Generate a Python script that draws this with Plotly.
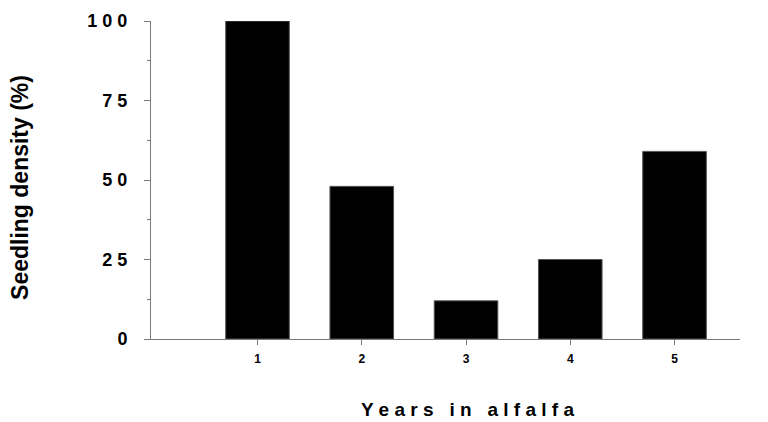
import plotly.graph_objects as go

years = [1, 2, 3, 4, 5]
density = [100, 48, 12, 25, 59]
y_tick_vals = [0, 25, 50, 75, 100]
y_tick_text = ["0", "2 5", "5 0", "7 5", "1 0 0"]
x_title = "Y e a r s   i n   a l f a l f a"
y_title = "Seedling density (%)"

FONT = "Liberation Sans, Arial, sans-serif"
AXIS_COLOR = "#7a7a7a"

fig = go.Figure()
fig.add_trace(go.Bar(
    x=years, y=density, width=0.61,
    marker=dict(color="black", line=dict(color="#555555", width=1)),
))

fig.update_layout(
    width=768, height=422,
    margin=dict(l=151, r=28, t=21, b=83),
    plot_bgcolor="white", paper_bgcolor="white",
    showlegend=False,
    font=dict(family=FONT, color="black"),
    xaxis=dict(
        range=[-0.0216, 5.628], tickmode="array", tickvals=years,
        ticktext=[str(v) for v in years],
        showgrid=False, zeroline=False, showline=True, linecolor=AXIS_COLOR, linewidth=1,
        ticks="outside", ticklen=5, tickcolor=AXIS_COLOR, tickwidth=1,
        tickfont=dict(family=FONT, size=12, color="black", weight="bold"),
        ticklabelstandoff=4, automargin=False,
    ),
    yaxis=dict(
        range=[0, 100], tickmode="array", tickvals=y_tick_vals, ticktext=y_tick_text,
        showgrid=False, zeroline=False, showline=True, linecolor=AXIS_COLOR, linewidth=1,
        ticks="outside", ticklen=6, tickcolor=AXIS_COLOR, tickwidth=1,
        tickfont=dict(family=FONT, size=18, color="black", weight="bold"),
        ticklabelstandoff=13, automargin=False,
        minor=dict(tickmode="linear", tick0=12.5, dtick=25, ticks="outside", ticklen=3,
                   tickcolor=AXIS_COLOR, tickwidth=1, showgrid=False),
    ),
)

fig.add_annotation(
    text=x_title, xref="paper", yref="paper", x=0.538, y=-0.223,
    xanchor="center", yanchor="middle", showarrow=False,
    font=dict(family=FONT, size=19, color="black", weight="bold"),
)
fig.add_annotation(
    text=y_title, xref="paper", yref="paper", x=-0.2224, y=0.475,
    xanchor="center", yanchor="middle", showarrow=False, textangle=-90,
    font=dict(family=FONT, size=23, color="black", weight="bold"),
)

fig.write_html("out.html", config={"displayModeBar": False},
               post_script="document.body.style.margin='0';")
